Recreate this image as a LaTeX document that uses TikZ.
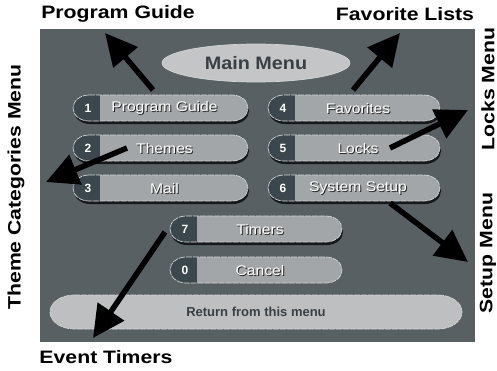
\documentclass[tikz,border=0pt]{standalone}
\usepackage{fontspec}
\usepackage{graphicx}
\setmainfont{Liberation Sans}
\usetikzlibrary{arrows.meta,shapes.geometric}

\definecolor{panelgray}{HTML}{586064}
\definecolor{btnface}{HTML}{A3A6A8}
\definecolor{btnkey}{HTML}{3C474D}
\definecolor{btnshade}{HTML}{16191B}
\definecolor{btnedge}{HTML}{D2D5D6}
\definecolor{ovalface}{HTML}{C4C5C6}
\definecolor{returnface}{HTML}{BEBFC0}
\definecolor{darktext}{HTML}{394045}

% horizontal stretch used for the outer captions
\newcommand{\wide}[1]{\scalebox{1.18}[1]{#1}}
\newcommand{\mild}[1]{\scalebox{1.12}[1]{#1}}

% pill outline: left x, centre y, width, half height, end radius
\newcommand{\pill}[5]{(#1+#5,#2-#4) -- (#1+#3-#5,#2-#4)
  arc[start angle=-90,end angle=90,x radius=#5,y radius=#4]
  -- (#1+#5,#2+#4)
  arc[start angle=90,end angle=270,x radius=#5,y radius=#4] -- cycle}

% menu button: [shadow style] name, left x, centre y, width, key, caption
\newcommand{\menubutton}[7][btnshadow]{%
  \fill[#1] \pill{#3+1}{#4+3}{#5}{13}{16};
  \begin{scope}
    \clip \pill{#3}{#4}{#5}{13}{16};
    \fill[btnface] (#3,#4-14) rectangle (#3+#5,#4+14);
    \fill[btnkey] (#3,#4-14) rectangle (#3+27,#4+14);
  \end{scope}
  \draw[btnrim] \pill{#3}{#4}{#5}{13}{16};
  \node[keytext] (#2key) at (#3+15,#4) {#6};
  \node[captionshade] (#2shade) at (#3+#5/2+5,#4+1) {\mild{#7}};
  \node[captiontext] (#2) at (#3+#5/2+4,#4) {\mild{#7}};
}

\tikzset{
  btnshadow/.style={fill=btnshade},
  noshade/.style={fill=none},
  btnrim/.style={draw=btnedge, line width=0.7pt, dash pattern=on 6pt off 1pt},
  keytext/.style={text=white, inner sep=0pt, font=\fontsize{12}{12}\selectfont\bfseries},
  captiontext/.style={text=white, inner sep=0pt, font=\fontsize{14}{16}\selectfont},
  captionshade/.style={text=black!85, inner sep=0pt, font=\fontsize{14}{16}\selectfont},
  callout/.style={text=black, inner sep=0pt, font=\fontsize{18}{20}\selectfont\bfseries},
  pointer/.style={draw=black, line width=5.5pt, -{Triangle[length=32pt,width=31pt]}},
}

\begin{document}
\begin{tikzpicture}[x=1pt, y=-1pt]
  \useasboundingbox[fill=white] (0,0) rectangle (497,370);

  % screen panel
  \fill[panelgray] (40,29) rectangle (475,342);

  % title oval
  \node[ellipse, fill=ovalface, draw=btnedge, line width=0.7pt,
        minimum width=188pt, minimum height=38pt, inner sep=0pt,
        text=darktext, font=\fontsize{18}{20}\selectfont\bfseries]
        (mainmenu) at (256,63) {\scalebox{1.1}[1]{Main Menu}};

  % menu buttons
  \menubutton{guide}{73}{108}{175}{1}{Program Guide}
  \menubutton{themes}{73}{148}{175}{2}{Themes}
  \menubutton{mail}{73}{188}{175}{3}{Mail}
  \menubutton{favs}{268}{108}{172}{4}{Favorites}
  \menubutton{locks}{268}{148}{172}{5}{Locks}
  \menubutton{setup}{268}{188}{172}{6}{System Setup}
  \menubutton{timers}{170}{229}{172}{7}{Timers}
  \menubutton[noshade]{cancel}{170}{270}{172}{0}{Cancel}

  % return bar
  \fill[returnface] \pill{50}{312}{412}{17}{24};
  \draw[btnrim] \pill{50}{312}{412}{17}{24};
  \node[text=darktext, inner sep=0pt, font=\fontsize{13}{14}\selectfont\bfseries]
        (returnbar) at (256,312) {Return from this menu};

  % outer captions
  \node[callout] (lblguide) at (118,14) {\wide{Program Guide}};
  \node[callout] (lblfav) at (405,14) {\wide{Favorite Lists}};
  \node[callout, rotate=90] (lbllocks) at (488,89) {\wide{Locks Menu}};
  \node[callout, rotate=90] (lblsetup) at (488,253) {\wide{Setup Menu}};
  \node[callout, rotate=90] (lbltheme) at (16,187) {\wide{Theme Categories Menu}};
  \node[callout] (lbltimers) at (106,357) {\wide{Event Timers}};

  % arrow ends
  \coordinate (fromguide) at (153,90);
  \coordinate (toguide) at (105,33);
  \coordinate (fromfav) at (353,90);
  \coordinate (tofav) at (400,33);
  \coordinate (fromlocks) at (390,148);
  \coordinate (tolocks) at (468,110);
  \coordinate (fromthemes) at (127,148);
  \coordinate (tothemes) at (46,182);
  \coordinate (fromsetup) at (390,203);
  \coordinate (tosetup) at (468,262);
  \coordinate (fromtimers) at (165,232);
  \coordinate (totimers) at (93,338);

  % arrows
  \draw[pointer] (fromguide) -- (toguide);
  \draw[pointer] (fromfav) -- (tofav);
  \draw[pointer] (fromlocks) -- (tolocks);
  \draw[pointer] (fromthemes) -- (tothemes);
  \draw[pointer] (fromsetup) -- (tosetup);
  \draw[pointer] (fromtimers) -- (totimers);
\end{tikzpicture}
\end{document}
